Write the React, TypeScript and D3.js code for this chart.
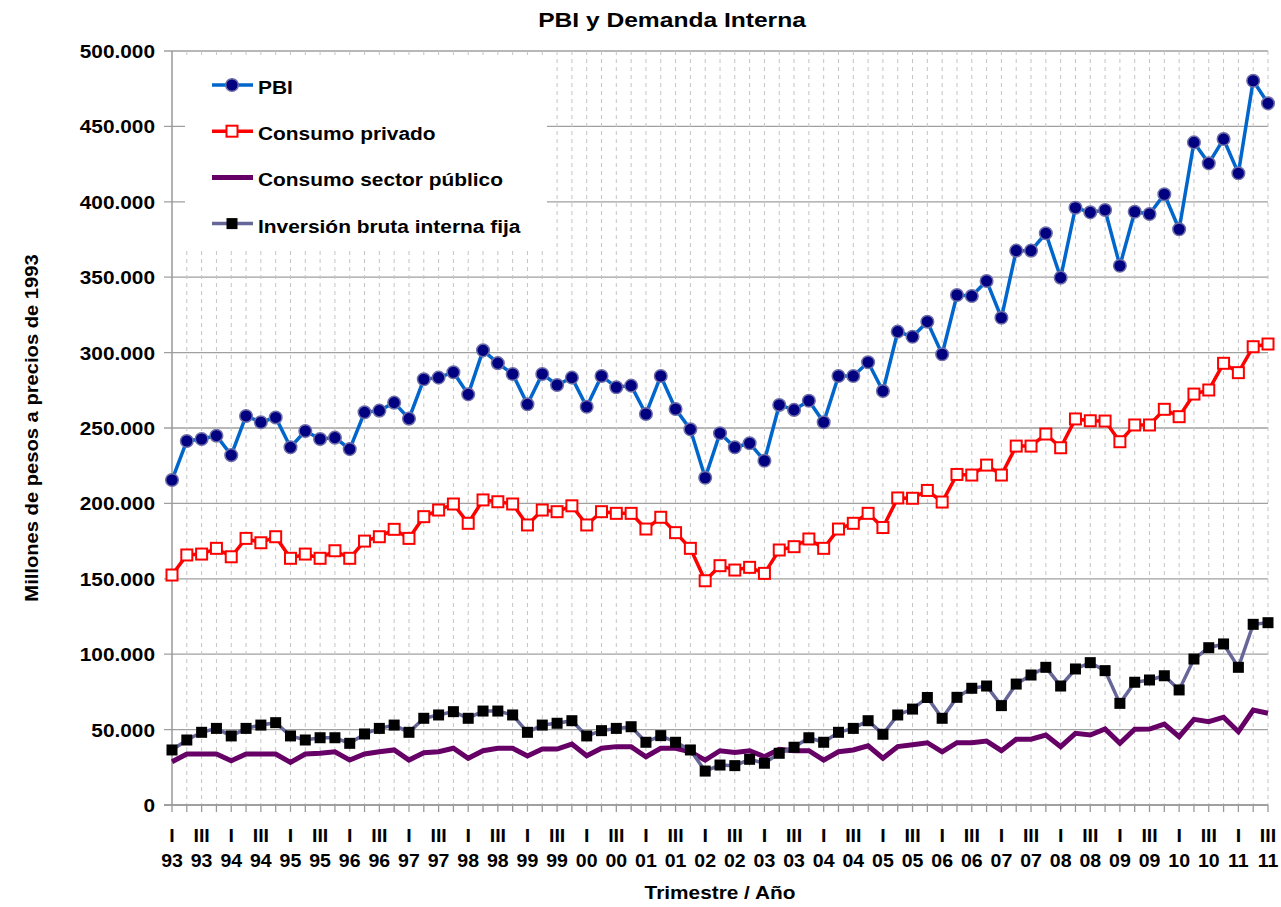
import React, { useEffect, useRef } from "react";
import * as d3 from "d3";

// Trimestres 1993-I a 2011-III
const years = ["93", "94", "95", "96", "97", "98", "99", "00", "01", "02", "03", "04", "05", "06", "07", "08", "09", "10", "11"];
const quarterNames = ["I", "II", "III", "IV"];

// Millones de pesos a precios de 1993
const pbi = [
  215500, 241400, 242700, 244900, 232000, 258000, 253800, 257000, 237200, 248000,
  242700, 243600, 236000, 260400, 261500, 266800, 256200, 282300, 283400, 287000,
  272300, 301500, 293000, 285800, 265700, 285800, 278500, 283400, 264100, 284500,
  277000, 278100, 259300, 284500, 262600, 249100, 217000, 246500, 237200, 239900,
  228300, 265300, 262000, 268100, 253800, 284500, 284500, 293600, 274500, 313900,
  310500, 320500, 298900, 338200, 337500, 347500, 323100, 367600, 367600, 379100,
  349700, 396100, 393000, 394600, 357600, 393400, 391900, 405000, 381800, 439400,
  425500, 441600, 418900, 480300, 465300,
];
const consumoPrivado = [
  152500, 165800, 166400, 170200, 164600, 176800, 173900, 177900, 163600, 166400,
  163600, 168600, 163600, 175000, 177900, 182800, 176800, 191200, 195600, 199600,
  186800, 202300, 201100, 199600, 185700, 195600, 194500, 198400, 185700, 194500,
  193400, 193400, 183000, 190800, 180600, 170200, 148700, 158700, 155800, 157600,
  153600, 169100, 171300, 176400, 170200, 183000, 186800, 193400, 184000, 203600,
  203400, 208600, 200900, 219200, 218800, 225400, 218800, 238000, 238000, 246000,
  236900, 256000, 254800, 254600, 240900, 252000, 252000, 262400, 257500, 272500,
  275200, 292900, 286700, 303900, 305700,
];
const consumoPublico = [
  28700, 33800, 33800, 33800, 29400, 33800, 33800, 33800, 28300, 33800,
  34300, 35300, 29800, 33800, 35300, 36500, 29800, 34700, 35300, 37600,
  31000, 36000, 37600, 37600, 32500, 37100, 37100, 40400, 32700, 37600,
  38700, 38700, 32000, 37600, 37600, 35300, 29800, 36000, 34900, 36000,
  32000, 36900, 36000, 36000, 29800, 35300, 36500, 39300, 31000, 38700,
  40000, 41300, 35300, 41300, 41300, 42400, 36000, 43600, 43600, 46400,
  38700, 47500, 46400, 50400, 40900, 50200, 50400, 53700, 45300, 56800,
  55200, 58200, 48600, 63000, 60800,
];
const inversion = [
  36500, 43100, 48200, 50800, 45800, 50800, 53000, 54600, 45800, 43100,
  44600, 44600, 40900, 47100, 50800, 53000, 48200, 57500, 59700, 61900,
  57500, 62300, 62300, 59700, 48200, 53000, 54200, 55900, 45800, 49300,
  50800, 51900, 41600, 46000, 41600, 36500, 22500, 26500, 26100, 30300,
  27700, 34300, 38300, 44600, 41600, 48200, 50800, 55900, 46900, 59700,
  63600, 71300, 57500, 71400, 77400, 78900, 65900, 80200, 86200, 91300,
  78900, 90200, 94400, 89100, 67400, 81400, 82900, 85700, 76300, 96800,
  104300, 106800, 91300, 119800, 120900,
];

const categories = years
  .flatMap((y) => quarterNames.map((q) => ({ q, y })))
  .slice(0, pbi.length);

function App() {
  const svgRef = useRef(null);
  const width = 1281;
  const height = 907;

  useEffect(() => {
    const svg = d3.select(svgRef.current);
    svg.selectAll("*").remove();

    const left = 172;
    const right = 1268;
    const top = 51;
    const bottom = 805;

    const x = d3
      .scalePoint()
      .domain(d3.range(categories.length))
      .range([left, right]);
    const y = d3.scaleLinear().domain([0, 500000]).range([bottom, top]);

    const fmt = d3
      .formatLocale({ decimal: ",", thousands: ".", grouping: [3], currency: ["$", ""] })
      .format(",.0f");

    // bold text, a bit wider than Liberation Sans draws it
    const label = (g, px, py, txt, size, sx, anchor, rot = 0) =>
      g
        .append("text")
        .attr(
          "transform",
          `translate(${px},${py})${rot ? ` rotate(${rot})` : ""} scale(${sx},1)`
        )
        .attr("text-anchor", anchor)
        .style("font-size", `${size}px`)
        .style("font-weight", "bold")
        .style("fill", "#000")
        .text(txt);

    // horizontal gridlines
    svg
      .append("g")
      .selectAll("line")
      .data(y.ticks(10))
      .join("line")
      .attr("x1", left - 8)
      .attr("x2", right)
      .attr("y1", (d) => y(d))
      .attr("y2", (d) => y(d))
      .style("stroke", "#a0a0a0")
      .style("stroke-width", 1.3);

    // vertical dashed gridlines
    svg
      .append("g")
      .selectAll("line")
      .data(d3.range(1, categories.length))
      .join("line")
      .attr("x1", (d) => x(d))
      .attr("x2", (d) => x(d))
      .attr("y1", top)
      .attr("y2", bottom)
      .style("stroke", "#c4c4c4")
      .style("stroke-width", 1)
      .style("stroke-dasharray", "4,4");

    // legend background
    svg
      .append("rect")
      .attr("x", 185)
      .attr("y", 58)
      .attr("width", 362)
      .attr("height", 192)
      .style("fill", "white");

    // axes
    svg
      .append("line")
      .attr("x1", left)
      .attr("x2", left)
      .attr("y1", top)
      .attr("y2", bottom)
      .style("stroke", "#999")
      .style("stroke-width", 1.5);
    svg
      .append("line")
      .attr("x1", left - 8)
      .attr("x2", right)
      .attr("y1", bottom)
      .attr("y2", bottom)
      .style("stroke", "#999")
      .style("stroke-width", 1.5);
    svg
      .append("g")
      .selectAll("line")
      .data(d3.range(categories.length))
      .join("line")
      .attr("x1", (d) => x(d))
      .attr("x2", (d) => x(d))
      .attr("y1", bottom)
      .attr("y2", bottom + 7)
      .style("stroke", "#999")
      .style("stroke-width", 1.3);

    const axisText = svg.append("g");
    y.ticks(10).forEach((t) => label(axisText, 155, y(t) + 7, fmt(t), 18.6, 1.12, "end"));
    categories.forEach((c, i) => {
      if (i % 2 !== 0) return;
      label(axisText, x(i), 842, c.q, 18.6, 1.05, "middle");
      label(axisText, x(i), 867, c.y, 18.6, 1.05, "middle");
    });

    label(svg, 672, 27, "PBI y Demanda Interna", 20.5, 1.2, "middle");
    label(svg, 720, 899, "Trimestre / Año", 18.6, 1.12, "middle");
    label(svg, 38, 428, "Millones de pesos a precios de 1993", 18, 1.12, "middle", -90);

    const line = (vals) =>
      d3
        .line()
        .x((d, i) => x(i))
        .y((d) => y(d))(vals);

    // Consumo sector público
    svg
      .append("path")
      .attr("d", line(consumoPublico))
      .style("fill", "none")
      .style("stroke", "#660066")
      .style("stroke-width", 5)
      .style("stroke-linejoin", "miter");

    // Inversión bruta interna fija
    svg
      .append("path")
      .attr("d", line(inversion))
      .style("fill", "none")
      .style("stroke", "#666699")
      .style("stroke-width", 3.5);
    svg
      .append("g")
      .selectAll("rect")
      .data(inversion)
      .join("rect")
      .attr("x", (d, i) => x(i) - 5.5)
      .attr("y", (d) => y(d) - 5.5)
      .attr("width", 11)
      .attr("height", 11)
      .style("fill", "#000");

    // Consumo privado
    svg
      .append("path")
      .attr("d", line(consumoPrivado))
      .style("fill", "none")
      .style("stroke", "#ff0000")
      .style("stroke-width", 3.5);
    svg
      .append("g")
      .selectAll("rect")
      .data(consumoPrivado)
      .join("rect")
      .attr("x", (d, i) => x(i) - 5.5)
      .attr("y", (d) => y(d) - 5.5)
      .attr("width", 11)
      .attr("height", 11)
      .style("fill", "white")
      .style("stroke", "#ff0000")
      .style("stroke-width", 2);

    // PBI
    svg
      .append("path")
      .attr("d", line(pbi))
      .style("fill", "none")
      .style("stroke", "#0066cc")
      .style("stroke-width", 3.5);
    svg
      .append("g")
      .selectAll("circle")
      .data(pbi)
      .join("circle")
      .attr("cx", (d, i) => x(i))
      .attr("cy", (d) => y(d))
      .attr("r", 6.3)
      .style("fill", "#000080")
      .style("stroke", "#6f6fa8")
      .style("stroke-width", 1.5);

    // legend
    const legendItems = [
      { name: "PBI", color: "#0066cc", width: 3.5, marker: "circle" },
      { name: "Consumo privado", color: "#ff0000", width: 3.5, marker: "open" },
      { name: "Consumo sector público", color: "#660066", width: 5, marker: "none" },
      { name: "Inversión bruta interna fija", color: "#666699", width: 3.5, marker: "filled" },
    ];
    const legend = svg.append("g");
    legendItems.forEach((item, i) => {
      const ly = 85 + i * 46.2;
      legend
        .append("line")
        .attr("x1", 212)
        .attr("x2", 253)
        .attr("y1", ly)
        .attr("y2", ly)
        .style("stroke", item.color)
        .style("stroke-width", item.width);
      if (item.marker === "circle") {
        legend
          .append("circle")
          .attr("cx", 232)
          .attr("cy", ly)
          .attr("r", 6.3)
          .style("fill", "#000080")
          .style("stroke", "#6f6fa8")
          .style("stroke-width", 1.5);
      } else if (item.marker === "open") {
        legend
          .append("rect")
          .attr("x", 226.5)
          .attr("y", ly - 5.5)
          .attr("width", 11)
          .attr("height", 11)
          .style("fill", "white")
          .style("stroke", "#ff0000")
          .style("stroke-width", 2);
      } else if (item.marker === "filled") {
        legend
          .append("rect")
          .attr("x", 226.5)
          .attr("y", ly - 5.5)
          .attr("width", 11)
          .attr("height", 11)
          .style("fill", "#000");
      }
      label(legend, 258, ly + 9, item.name, 19, 1.1, "start");
    });
  }, []);

  return (
    <svg
      ref={svgRef}
      width={width}
      height={height}
      style={{
        position: "absolute",
        left: 0,
        top: 0,
        display: "block",
        background: "white",
        fontFamily: "'Liberation Sans', Arial, sans-serif",
      }}
    ></svg>
  );
}

export default App;
